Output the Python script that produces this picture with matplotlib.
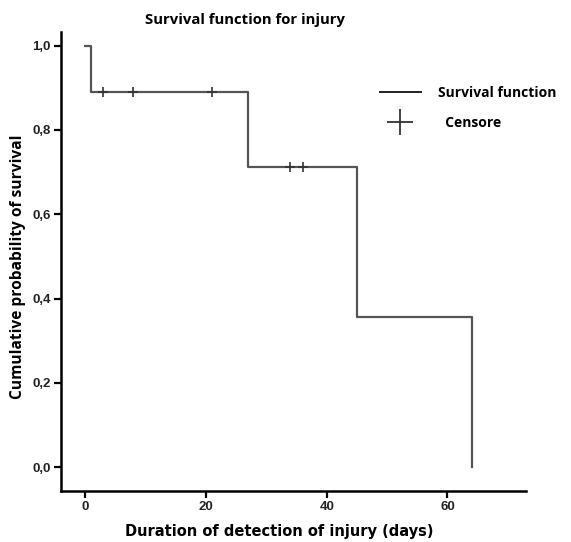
import numpy as np
import matplotlib
matplotlib.use("Agg")
import matplotlib.pyplot as plt
from matplotlib.lines import Line2D

# Kaplan-Meier steps
step_days = [0, 1, 27, 45, 64]
step_surv = [1.0, 0.889, 0.711, 0.356, 0.0]

# censored observations
censor_days = [3, 8, 21, 34, 36]
censor_surv = [0.889, 0.889, 0.889, 0.711, 0.711]

x_ticks = [0, 20, 40, 60]
y_ticks = [0.0, 0.2, 0.4, 0.6, 0.8, 1.0]
y_tick_labels = ["0,0", "0,2", "0,4", "0,6", "0,8", "1,0"]

line_col = "#555555"

fig = plt.figure(figsize=(5.71, 5.42), dpi=100)
ax = fig.add_axes([0.1068, 0.0946, 0.8144, 0.8469])

ax.step(step_days, step_surv, where="post", color=line_col, linewidth=1.6)
ax.plot(censor_days, censor_surv, linestyle="none", marker="+",
        markersize=7, markeredgewidth=1.2, color="#333333")

ax.set_xlim(-4, 73)
ax.set_ylim(-0.0555, 1.033)
ax.set_xticks(x_ticks)
ax.set_yticks(y_ticks)
ax.set_yticklabels(y_tick_labels)

for side in ["top", "right"]:
    ax.spines[side].set_visible(False)
for side in ["left", "bottom"]:
    ax.spines[side].set_linewidth(1.8)

ax.tick_params(axis="both", direction="out", length=5, width=1.6,
               labelsize=9.5, pad=2.5)
for lab in ax.get_xticklabels() + ax.get_yticklabels():
    lab.set_fontfamily("Liberation Sans")
    lab.set_fontweight("bold")
    lab.set_color("#222222")

# titles / labels
fig.text(0.429, 0.963, "Survival function for injury", ha="center", va="center",
         fontfamily="Open Sans", fontweight="bold", fontsize=10.7)
fig.text(0.489, 0.019, "Duration of detection of injury (days)", ha="center",
         va="center", fontfamily="DejaVu Sans", fontweight="bold", fontsize=10.5)
fig.text(0.0315, 0.508, "Cumulative probability of survival", ha="center",
         va="center", rotation=90, fontfamily="Open Sans",
         fontweight="bold", fontsize=11.2)

handles = [
    Line2D([], [], color="#222222", linewidth=1.4),
    Line2D([], [], linestyle="none", marker="+", markersize=19,
           markeredgewidth=1.3, color="#333333"),
]
leg = ax.legend(handles, ["Survival function", "  Censore"], loc="upper left",
                bbox_to_anchor=(0.686, 0.882), frameon=False, borderpad=0,
                borderaxespad=0, handlelength=2.95, handletextpad=1.2,
                labelspacing=1.15,
                prop={"family": "Open Sans", "weight": "bold", "size": 10})

fig.savefig("out.png", dpi=100)
